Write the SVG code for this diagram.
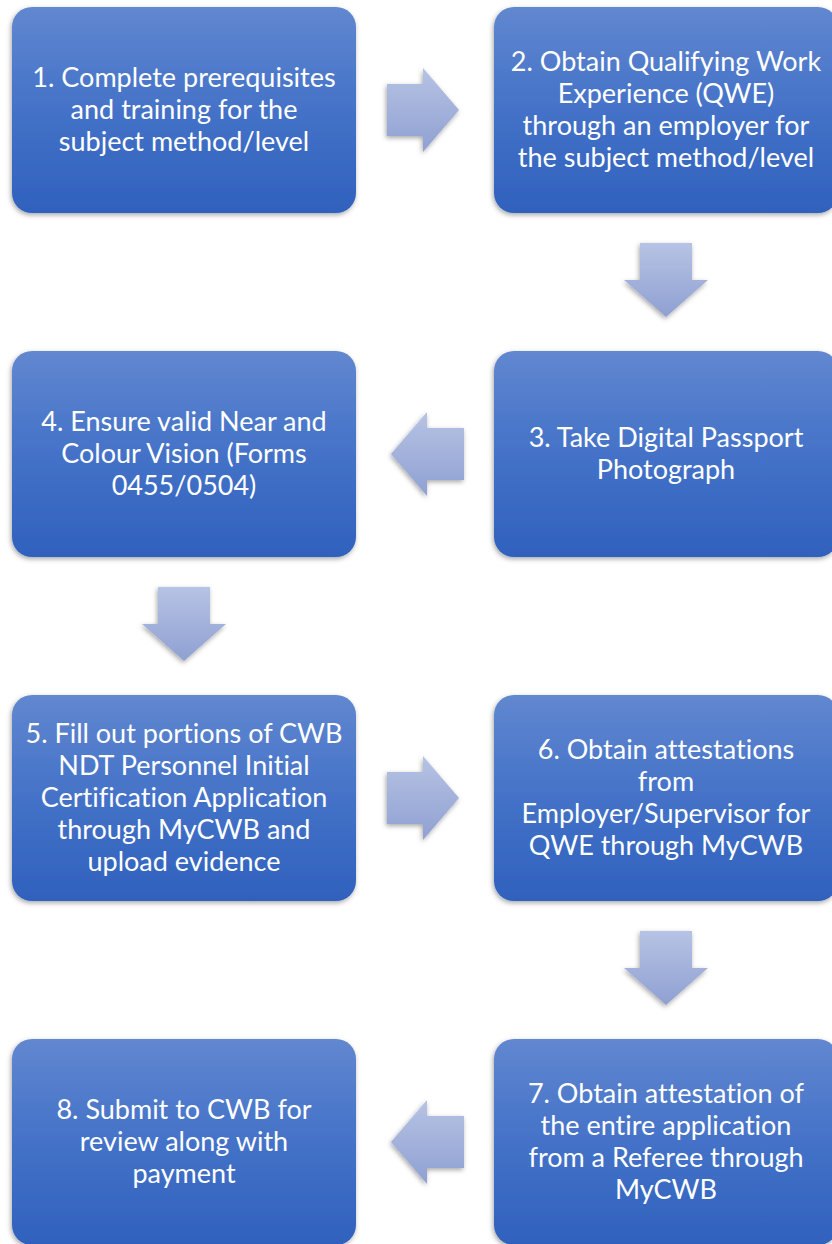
<svg xmlns="http://www.w3.org/2000/svg" width="832" height="1244" viewBox="0 0 832 1244">
<defs>
  <linearGradient id="boxGrad" x1="0" y1="0" x2="0" y2="1">
    <stop offset="0" stop-color="#6187cf"/>
    <stop offset="0.5" stop-color="#4472c8"/>
    <stop offset="1" stop-color="#2f61bd"/>
  </linearGradient>
  <linearGradient id="arrGrad" x1="0" y1="0" x2="0" y2="1">
    <stop offset="0" stop-color="#b7c3e4"/>
    <stop offset="1" stop-color="#8fa0d2"/>
  </linearGradient>
  <filter id="shadow" x="-10%" y="-10%" width="120%" height="125%">
    <feDropShadow dx="-1" dy="2" stdDeviation="2.5" flood-color="#000" flood-opacity="0.35"/>
  </filter>
</defs>
<style>
  .box { fill: url(#boxGrad); filter: url(#shadow); }
  .arrow { fill: url(#arrGrad); filter: url(#shadow); }
  .label { font-family: Lato, "Open Sans", "Liberation Sans", sans-serif; font-size: 27px; fill: #ffffff; text-anchor: middle; font-variant-ligatures: none; }
</style>
<rect width="832" height="1244" fill="#ffffff"/>

<g id="connectors">
  <path class="arrow" d="M387,84 H423 V68 L459,110 L423,152 V136 H387 Z"/>
  <path class="arrow" d="M640,243 H692 V280 H708 L666,317 L624,280 H640 Z"/>
  <path class="arrow" d="M464,428 V480 H427 V496 L391,454 L427,412 V428 Z"/>
  <path class="arrow" d="M158,587 H210 V624 H226 L184,661 L142,624 H158 Z"/>
  <path class="arrow" d="M387,772 H423 V756 L459,798 L423,840 V824 H387 Z"/>
  <path class="arrow" d="M640,931 H692 V968 H708 L666,1005 L624,968 H640 Z"/>
  <path class="arrow" d="M464,1116 V1168 H427 V1184 L391,1142 L427,1100 V1116 Z"/>
</g>

<g id="node1">
  <rect class="box" x="12" y="7" width="344" height="206" rx="20"/>
  <text class="label" x="184" y="87">1. Complete prerequisites</text>
  <text class="label" x="184" y="119">and training for the</text>
  <text class="label" x="184" y="151">subject method/level</text>
</g>
<g id="node2">
  <rect class="box" x="494" y="7" width="344" height="206" rx="20"/>
  <text class="label" x="666" y="71">2. Obtain Qualifying Work</text>
  <text class="label" x="666" y="103">Experience (QWE)</text>
  <text class="label" x="666" y="135">through an employer for</text>
  <text class="label" x="666" y="167">the subject method/level</text>
</g>
<g id="node3">
  <rect class="box" x="494" y="351" width="344" height="206" rx="20"/>
  <text class="label" x="666" y="447">3. Take Digital Passport</text>
  <text class="label" x="666" y="479">Photograph</text>
</g>
<g id="node4">
  <rect class="box" x="12" y="351" width="344" height="206" rx="20"/>
  <text class="label" x="184" y="431">4. Ensure valid Near and</text>
  <text class="label" x="184" y="463">Colour Vision (Forms</text>
  <text class="label" x="184" y="495">0455/0504)</text>
</g>
<g id="node5">
  <rect class="box" x="12" y="695" width="344" height="206" rx="20"/>
  <text class="label" x="184" y="743">5. Fill out portions of CWB</text>
  <text class="label" x="184" y="775">NDT Personnel Initial</text>
  <text class="label" x="184" y="807">Certification Application</text>
  <text class="label" x="184" y="839">through MyCWB and</text>
  <text class="label" x="184" y="871">upload evidence</text>
</g>
<g id="node6">
  <rect class="box" x="494" y="695" width="344" height="206" rx="20"/>
  <text class="label" x="666" y="759">6. Obtain attestations</text>
  <text class="label" x="666" y="791">from</text>
  <text class="label" x="666" y="823">Employer/Supervisor for</text>
  <text class="label" x="666" y="855">QWE through MyCWB</text>
</g>
<g id="node7">
  <rect class="box" x="494" y="1039" width="344" height="206" rx="20"/>
  <text class="label" x="666" y="1103">7. Obtain attestation of</text>
  <text class="label" x="666" y="1135">the entire application</text>
  <text class="label" x="666" y="1167">from a Referee through</text>
  <text class="label" x="666" y="1199">MyCWB</text>
</g>
<g id="node8">
  <rect class="box" x="12" y="1039" width="344" height="206" rx="20"/>
  <text class="label" x="184" y="1119">8. Submit to CWB for</text>
  <text class="label" x="184" y="1151">review along with</text>
  <text class="label" x="184" y="1183">payment</text>
</g>
</svg>
